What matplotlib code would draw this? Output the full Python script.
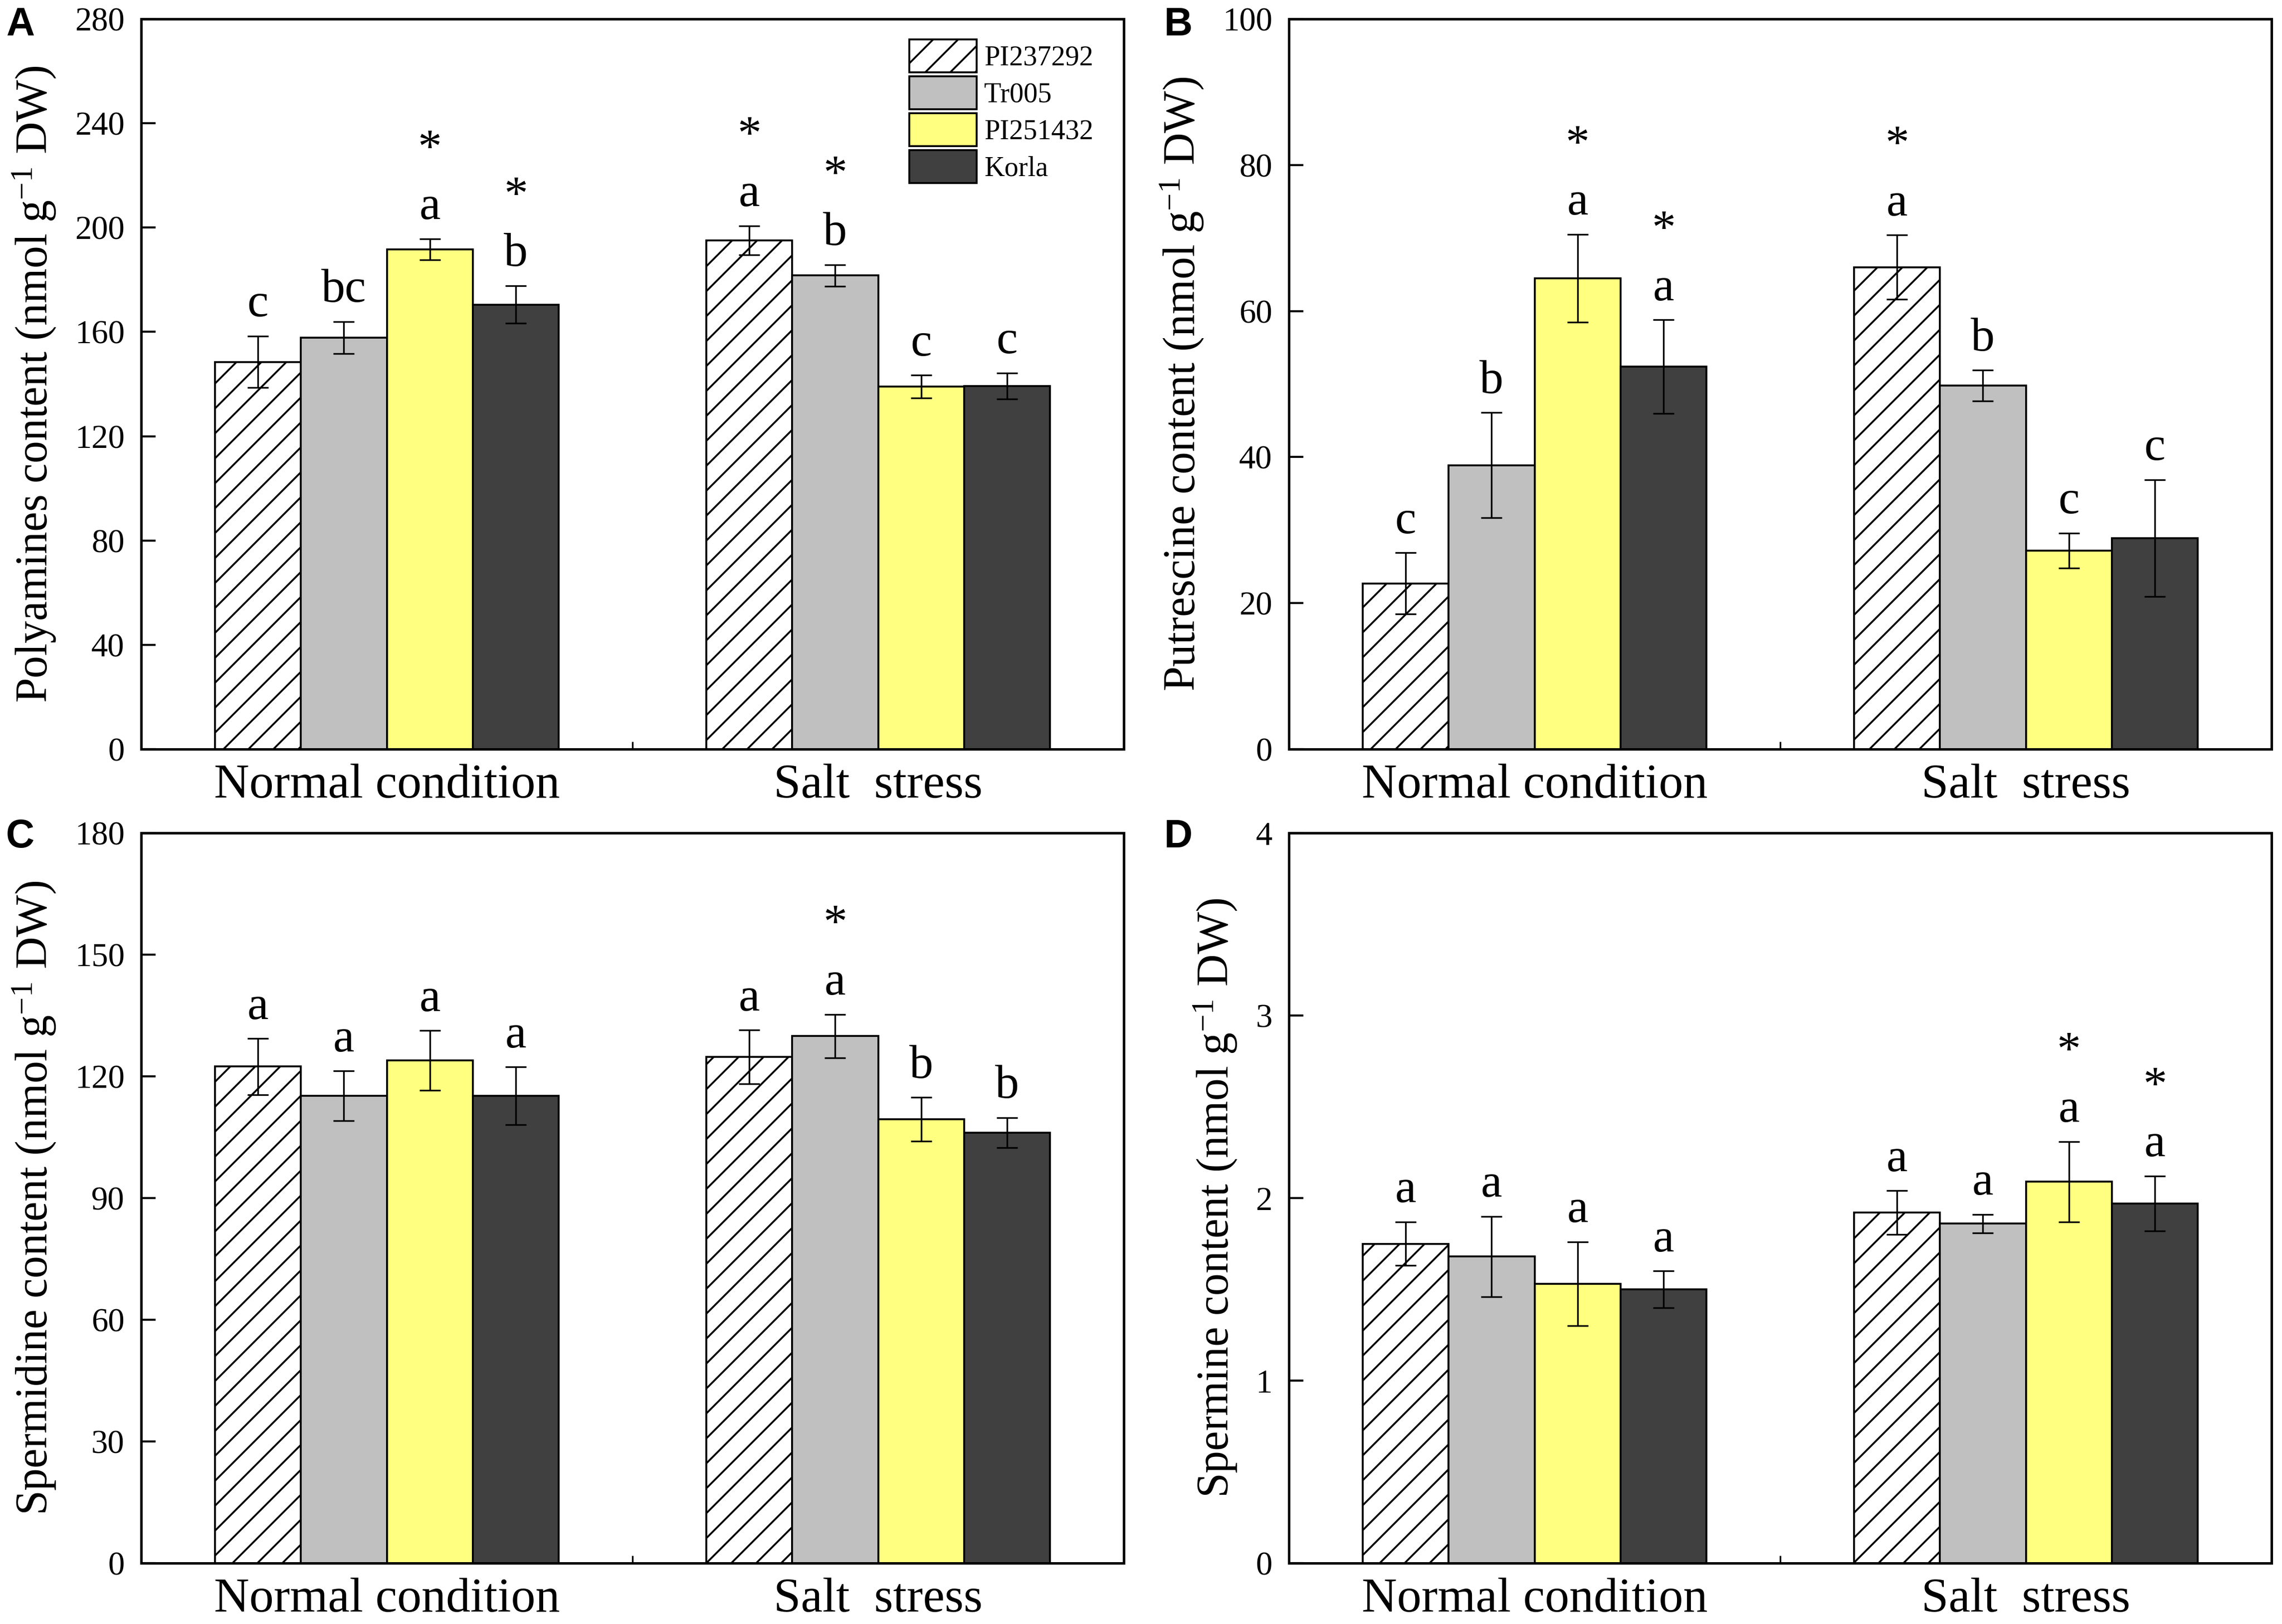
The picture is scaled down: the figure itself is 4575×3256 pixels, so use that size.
import numpy as np
import matplotlib
matplotlib.use('Agg')
import matplotlib.pyplot as plt
from matplotlib.ticker import MultipleLocator, FixedLocator

plt.rcParams['font.family'] = ['Liberation Serif', 'DejaVu Serif']
plt.rcParams['mathtext.fontset'] = 'custom'
plt.rcParams['mathtext.rm'] = 'Liberation Serif'
plt.rcParams['mathtext.it'] = 'Liberation Serif:italic'
plt.rcParams['hatch.linewidth'] = 0.9

# datos (filas = cultivar, columnas = [normal, salino])
grupos = ['Normal condition', 'Salt  stress']
cultivares = ['PI237292', 'Tr005', 'PI251432', 'Korla']
colores = ['white', '#c0c0c0', '#ffff80', '#404040']
tramas = ['//', None, None, None]

poliaminas_media = [[148.5, 195.1], [157.8, 181.6], [191.7, 139.0], [170.5, 139.2]]
poliaminas_err = [[9.9, 5.6], [6.1, 4.1], [4.0, 4.4], [7.2, 5.0]]
poliaminas_letras = [['c', 'a'], ['bc', 'b'], ['a', 'c'], ['b', 'c']]
poliaminas_estrellas = [[0, 1], [0, 1], [1, 0], [1, 0]]

putrescina_media = [[22.7, 66.0], [38.9, 49.8], [64.5, 27.2], [52.4, 28.9]]
putrescina_err = [[4.2, 4.4], [7.2, 2.1], [6.0, 2.4], [6.4, 8.0]]
putrescina_letras = [['c', 'a'], ['b', 'b'], ['a', 'c'], ['a', 'c']]
putrescina_estrellas = [[0, 1], [0, 0], [1, 0], [1, 0]]

espermidina_media = [[122.4, 124.8], [115.2, 129.9], [123.9, 109.4], [115.2, 106.1]]
espermidina_err = [[6.9, 6.6], [6.1, 5.4], [7.4, 5.4], [7.1, 3.7]]
espermidina_letras = [['a', 'a'], ['a', 'a'], ['a', 'b'], ['a', 'b']]
espermidina_estrellas = [[0, 0], [0, 1], [0, 0], [0, 0]]

espermina_media = [[1.75, 1.92], [1.68, 1.86], [1.53, 2.09], [1.50, 1.97]]
espermina_err = [[0.12, 0.12], [0.22, 0.05], [0.23, 0.22], [0.10, 0.15]]
espermina_letras = [['a', 'a'], ['a', 'a'], ['a', 'a'], ['a', 'a']]
espermina_estrellas = [[0, 0], [0, 0], [0, 1], [0, 1]]

paneles = [
    ('A', 'Polyamines content (nmol g$^{-1}$ DW)', 280, 40,
     poliaminas_media, poliaminas_err, poliaminas_letras, poliaminas_estrellas),
    ('B', 'Putrescine content (nmol g$^{-1}$ DW)', 100, 20,
     putrescina_media, putrescina_err, putrescina_letras, putrescina_estrellas),
    ('C', 'Spermidine content (nmol g$^{-1}$ DW)', 180, 30,
     espermidina_media, espermidina_err, espermidina_letras, espermidina_estrellas),
    ('D', 'Spermine content (nmol g$^{-1}$ DW)', 4, 1,
     espermina_media, espermina_err, espermina_letras, espermina_estrellas),
]

W, H = 4575, 3256
fig = plt.figure(figsize=(W / 300, H / 300), dpi=300)

pos_ejes = [(283, 38), (2584, 38), (283, 1670), (2584, 1670)]
ancho_px, alto_px = 1970, 1464
pos_letra = [(12, 13), (2334, 13), (12, 1641), (2334, 1641)]

ancho = 0.175
x = np.arange(len(grupos))

for k, (etiqueta, ylab, ymax, paso, media, err, letras, estrellas) in enumerate(paneles):
    px, py = pos_ejes[k]
    ax = fig.add_axes([px / W, 1 - (py + alto_px) / H, ancho_px / W, alto_px / H])

    for i, cv in enumerate(cultivares):
        xi = x + (i - 1.5) * ancho
        ax.bar(xi, media[i], ancho, color=colores[i], hatch=tramas[i],
               edgecolor='black', linewidth=0.9, label=cv, zorder=2)
        ax.errorbar(xi, media[i], yerr=err[i], fmt='none', ecolor='black',
                    elinewidth=0.8, capsize=5, capthick=0.8, zorder=3)
        for j in range(len(grupos)):
            tope = media[i][j] + err[i][j]
            ax.annotate(letras[i][j], (xi[j], tope), xytext=(0, 9.5),
                        textcoords='offset points', ha='center', va='baseline',
                        fontsize=23)
            if estrellas[i][j]:
                ax.annotate('*', (xi[j], tope), xytext=(0, 37),
                            textcoords='offset points', ha='center', va='baseline',
                            fontsize=23)

    ax.set_xlim(-0.5, 1.5)
    ax.set_ylim(0, ymax)
    ax.yaxis.set_major_locator(MultipleLocator(paso))
    ax.set_xticks(x)
    ax.set_xticklabels(grupos, fontsize=23.5)
    ax.xaxis.set_minor_locator(FixedLocator([0.5]))
    ax.tick_params(axis='x', which='major', length=0, pad=7)
    ax.tick_params(axis='x', which='minor', direction='in', length=3.7, width=0.8)
    ax.tick_params(axis='y', direction='in', length=7, width=1, labelsize=16, pad=8)
    for s in ax.spines.values():
        s.set_linewidth(1.2)
    ax.set_ylabel(ylab, fontsize=21.5, labelpad=8)

    if k == 0:
        ax.legend(loc='upper left', bbox_to_anchor=(0.7817, 0.972), frameon=False,
                  fontsize=13.5, handlelength=2.4, handleheight=1.43,
                  labelspacing=0.14, handletextpad=0.27, borderpad=0,
                  borderaxespad=0)

    lx, ly = pos_letra[k]
    fig.text(lx / W, 1 - ly / H, etiqueta, family='Liberation Sans',
             fontweight='bold', fontsize=19, ha='left', va='top')

fig.savefig('out.png', dpi=300)
